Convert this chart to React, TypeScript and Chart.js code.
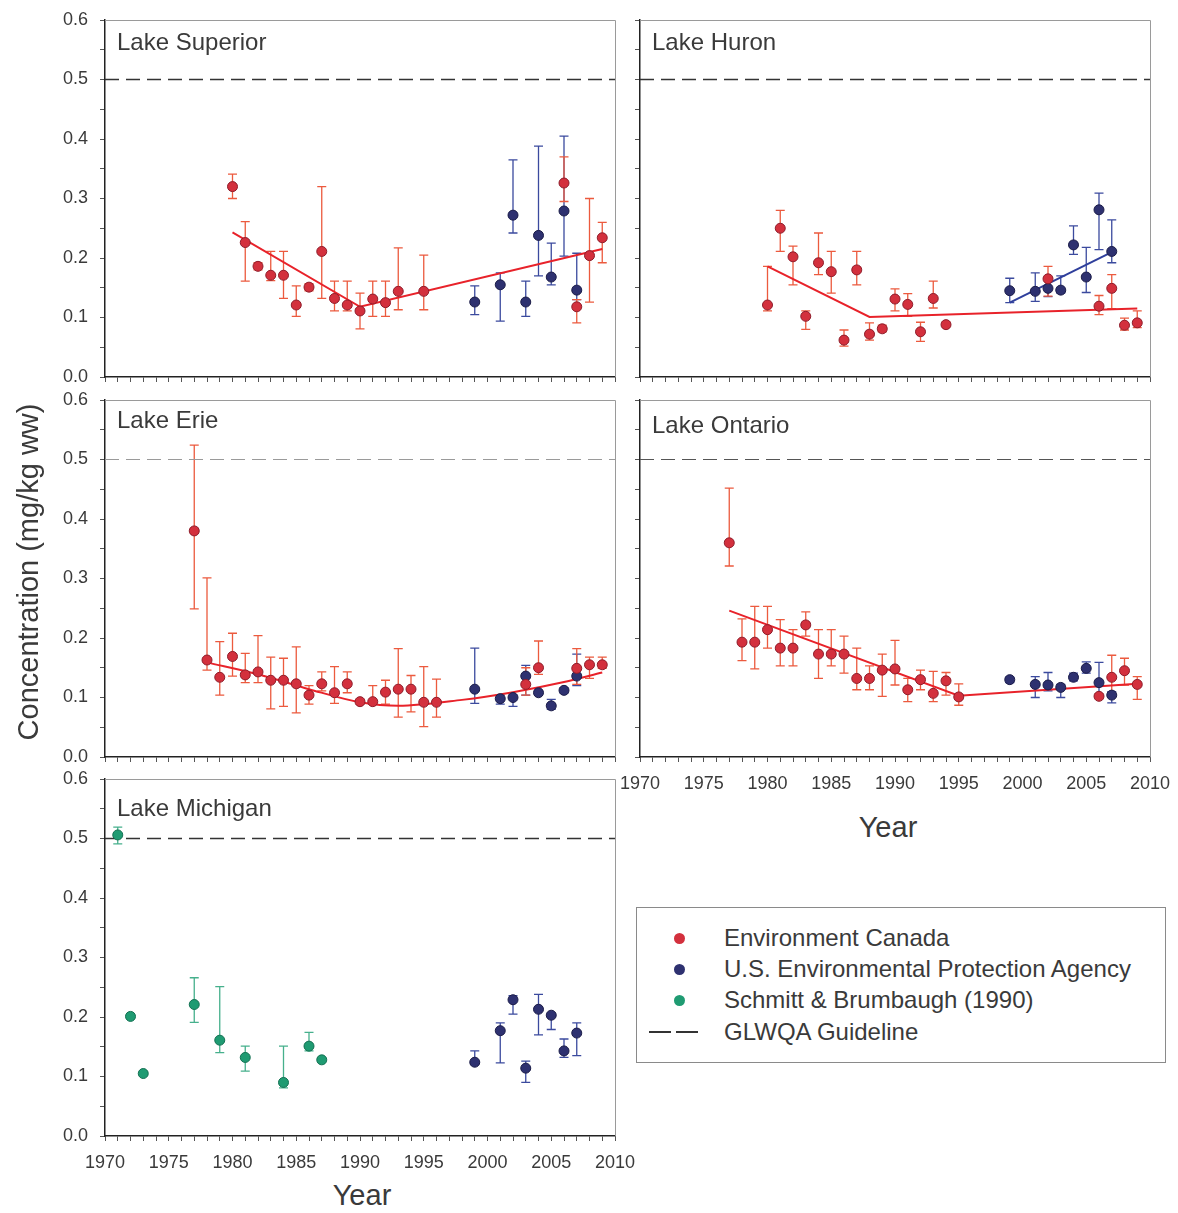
import React, { useEffect, useRef } from 'react';
import { Chart, registerables } from 'chart.js';

Chart.register(...registerables);

const FONT = '"Liberation Sans", Arial, Helvetica, sans-serif';
const X_MIN = 1970;
const X_MAX = 2010;
const Y_MIN = 0;
const Y_MAX = 0.6;
const GUIDELINE = 0.5;

// ---------------- Lake Superior ----------------
const supEcYears = [1980, 1981, 1982, 1983, 1984, 1985, 1986, 1987, 1988, 1989, 1990, 1991, 1992, 1993, 1995, 2006, 2007, 2008, 2009];
const supEcVals = [0.320, 0.226, 0.186, 0.171, 0.171, 0.121, 0.151, 0.211, 0.132, 0.121, 0.111, 0.131, 0.125, 0.144, 0.144, 0.326, 0.118, 0.204, 0.234];
const supEcLo = [0.300, 0.161, 0.180, 0.162, 0.132, 0.102, 0.145, 0.132, 0.111, 0.111, 0.081, 0.102, 0.102, 0.113, 0.113, 0.295, 0.091, 0.126, 0.192];
const supEcHi = [0.341, 0.261, 0.192, 0.211, 0.211, 0.153, 0.157, 0.320, 0.161, 0.161, 0.141, 0.161, 0.161, 0.217, 0.205, 0.370, 0.130, 0.300, 0.260];
const supEpaYears = [1999, 2001, 2002, 2003, 2004, 2005, 2006, 2007];
const supEpaVals = [0.126, 0.155, 0.272, 0.126, 0.238, 0.168, 0.279, 0.146];
const supEpaLo = [0.105, 0.094, 0.242, 0.102, 0.170, 0.155, 0.203, 0.130];
const supEpaHi = [0.153, 0.175, 0.365, 0.161, 0.388, 0.225, 0.405, 0.208];
const supEcTrendYears = [1980, 1990, 2009];
const supEcTrendVals = [0.243, 0.118, 0.215];

// ---------------- Lake Huron ----------------
const hurEcYears = [1980, 1981, 1982, 1983, 1984, 1985, 1986, 1987, 1988, 1989, 1990, 1991, 1992, 1993, 1994, 2002, 2006, 2007, 2008, 2009];
const hurEcVals = [0.121, 0.250, 0.202, 0.102, 0.192, 0.177, 0.062, 0.180, 0.072, 0.081, 0.131, 0.122, 0.076, 0.132, 0.088, 0.165, 0.119, 0.149, 0.087, 0.091];
const hurEcLo = [0.111, 0.211, 0.155, 0.080, 0.172, 0.141, 0.052, 0.155, 0.062, 0.076, 0.111, 0.102, 0.060, 0.116, 0.085, 0.136, 0.105, 0.115, 0.079, 0.083];
const hurEcHi = [0.186, 0.280, 0.220, 0.111, 0.242, 0.211, 0.079, 0.211, 0.091, 0.087, 0.148, 0.140, 0.092, 0.161, 0.092, 0.186, 0.137, 0.172, 0.099, 0.111];
const hurEpaYears = [1999, 2001, 2002, 2003, 2004, 2005, 2006, 2007];
const hurEpaVals = [0.145, 0.144, 0.149, 0.146, 0.222, 0.168, 0.281, 0.211];
const hurEpaLo = [0.125, 0.127, 0.135, 0.141, 0.206, 0.142, 0.214, 0.192];
const hurEpaHi = [0.166, 0.175, 0.166, 0.170, 0.254, 0.218, 0.309, 0.264];
const hurEcTrendYears = [1980, 1988, 2009];
const hurEcTrendVals = [0.186, 0.101, 0.115];
const hurEpaTrendYears = [1999, 2007];
const hurEpaTrendVals = [0.125, 0.210];

// ---------------- Lake Erie ----------------
const erieEcYears = [1977, 1978, 1979, 1980, 1981, 1982, 1983, 1984, 1985, 1986, 1987, 1988, 1989, 1990, 1991, 1992, 1993, 1994, 1995, 1996, 2003, 2004, 2007, 2008, 2009];
const erieEcVals = [0.380, 0.163, 0.134, 0.169, 0.138, 0.143, 0.129, 0.129, 0.123, 0.104, 0.123, 0.108, 0.123, 0.093, 0.093, 0.109, 0.114, 0.114, 0.092, 0.092, 0.122, 0.150, 0.149, 0.155, 0.155];
const erieEcLo = [0.249, 0.146, 0.104, 0.136, 0.125, 0.125, 0.081, 0.085, 0.074, 0.089, 0.111, 0.090, 0.108, 0.089, 0.089, 0.089, 0.067, 0.076, 0.051, 0.067, 0.104, 0.139, 0.122, 0.132, 0.149];
const erieEcHi = [0.524, 0.301, 0.194, 0.208, 0.174, 0.204, 0.168, 0.166, 0.185, 0.120, 0.143, 0.152, 0.143, 0.097, 0.120, 0.129, 0.182, 0.137, 0.152, 0.131, 0.150, 0.195, 0.182, 0.168, 0.168];
const erieEpaYears = [1999, 2001, 2002, 2003, 2004, 2005, 2006, 2007];
const erieEpaVals = [0.114, 0.098, 0.100, 0.136, 0.108, 0.086, 0.112, 0.136];
const erieEpaLo = [0.090, 0.089, 0.085, 0.104, 0.104, 0.080, 0.108, 0.120];
const erieEpaHi = [0.183, 0.104, 0.104, 0.154, 0.112, 0.097, 0.116, 0.173];
const erieEcTrendYears = [1978, 1982, 1986, 1990, 1993, 1998, 2002, 2006, 2009];
const erieEcTrendVals = [0.159, 0.139, 0.114, 0.092, 0.086, 0.096, 0.109, 0.126, 0.142];

// ---------------- Lake Ontario ----------------
const ontEcYears = [1977, 1978, 1979, 1980, 1981, 1982, 1983, 1984, 1985, 1986, 1987, 1988, 1989, 1990, 1991, 1992, 1993, 1994, 1995, 2006, 2007, 2008, 2009];
const ontEcVals = [0.360, 0.193, 0.193, 0.214, 0.183, 0.183, 0.222, 0.173, 0.173, 0.173, 0.132, 0.132, 0.146, 0.148, 0.113, 0.130, 0.107, 0.128, 0.101, 0.102, 0.134, 0.145, 0.122];
const ontEcLo = [0.321, 0.162, 0.148, 0.183, 0.153, 0.153, 0.203, 0.132, 0.153, 0.141, 0.113, 0.113, 0.102, 0.121, 0.093, 0.113, 0.093, 0.104, 0.087, 0.098, 0.102, 0.121, 0.097];
const ontEcHi = [0.452, 0.232, 0.253, 0.253, 0.231, 0.214, 0.244, 0.214, 0.214, 0.203, 0.183, 0.153, 0.173, 0.196, 0.132, 0.146, 0.144, 0.142, 0.123, 0.106, 0.171, 0.166, 0.135];
const ontEpaYears = [1999, 2001, 2002, 2003, 2004, 2005, 2006, 2007];
const ontEpaVals = [0.130, 0.122, 0.121, 0.117, 0.134, 0.149, 0.125, 0.104];
const ontEpaLo = [0.125, 0.100, 0.111, 0.100, 0.128, 0.141, 0.104, 0.091];
const ontEpaHi = [0.134, 0.135, 0.142, 0.122, 0.141, 0.160, 0.159, 0.110];
const ontEcTrendYears = [1977, 1995, 2009];
const ontEcTrendVals = [0.246, 0.103, 0.123];

// ---------------- Lake Michigan ----------------
const micSbYears = [1971, 1972, 1973, 1977, 1979, 1981, 1984, 1986, 1987];
const micSbVals = [0.506, 0.201, 0.105, 0.221, 0.161, 0.132, 0.090, 0.151, 0.128];
const micSbLo = [0.491, 0.198, 0.102, 0.191, 0.140, 0.109, 0.081, 0.143, 0.125];
const micSbHi = [0.519, 0.204, 0.108, 0.266, 0.251, 0.151, 0.151, 0.174, 0.131];
const micEpaYears = [1999, 2001, 2002, 2003, 2004, 2005, 2006, 2007];
const micEpaVals = [0.124, 0.177, 0.229, 0.114, 0.213, 0.203, 0.143, 0.173];
const micEpaLo = [0.120, 0.123, 0.205, 0.090, 0.170, 0.179, 0.132, 0.135];
const micEpaHi = [0.143, 0.190, 0.236, 0.126, 0.238, 0.206, 0.163, 0.190];

// ---------------- Legend ----------------
const legendLabels = ['Environment Canada', 'U.S. Environmental Protection Agency', 'Schmitt & Brumbaugh (1990)', 'GLWQA Guideline'];

const C = {
  ecFill: '#d3303d',
  ecEdge: '#8e1c2a',
  ecErr: '#ec5a3e',
  ecTrend: '#e8222a',
  epaFill: '#2e3170',
  epaEdge: '#1b1c48',
  epaErr: '#3b4a9e',
  epaTrend: '#2f3f9c',
  sbFill: '#1f9b72',
  sbEdge: '#137052',
  sbErr: '#46b08c',
  text: '#3a3a3a',
};

type Series = { years: number[]; vals: number[]; lo?: number[]; hi?: number[] };
type PanelDef = {
  title: string;
  left: number;
  top: number;
  titleTop: number;
  showX: boolean;
  showY: boolean;
  guideColor: string;
  guideWidth: number;
  ec?: Series;
  epa?: Series;
  sb?: Series;
  ecTrend?: Series;
  epaTrend?: Series;
  smooth?: boolean;
};

const panels: PanelDef[] = [
  {
    title: 'Lake Superior', left: 105, top: 20, titleTop: 30, showX: false, showY: true, guideColor: '#333', guideWidth: 1.6,
    ec: { years: supEcYears, vals: supEcVals, lo: supEcLo, hi: supEcHi },
    epa: { years: supEpaYears, vals: supEpaVals, lo: supEpaLo, hi: supEpaHi },
    ecTrend: { years: supEcTrendYears, vals: supEcTrendVals },
  },
  {
    title: 'Lake Huron', left: 640, top: 20, titleTop: 30, showX: false, showY: false, guideColor: '#333', guideWidth: 1.6,
    ec: { years: hurEcYears, vals: hurEcVals, lo: hurEcLo, hi: hurEcHi },
    epa: { years: hurEpaYears, vals: hurEpaVals, lo: hurEpaLo, hi: hurEpaHi },
    ecTrend: { years: hurEcTrendYears, vals: hurEcTrendVals },
    epaTrend: { years: hurEpaTrendYears, vals: hurEpaTrendVals },
  },
  {
    title: 'Lake Erie', left: 105, top: 400, titleTop: 408, showX: false, showY: true, guideColor: '#9a9a9a', guideWidth: 1.2,
    ec: { years: erieEcYears, vals: erieEcVals, lo: erieEcLo, hi: erieEcHi },
    epa: { years: erieEpaYears, vals: erieEpaVals, lo: erieEpaLo, hi: erieEpaHi },
    ecTrend: { years: erieEcTrendYears, vals: erieEcTrendVals },
    smooth: true,
  },
  {
    title: 'Lake Ontario', left: 640, top: 400, titleTop: 413, showX: true, showY: false, guideColor: '#555', guideWidth: 1.2,
    ec: { years: ontEcYears, vals: ontEcVals, lo: ontEcLo, hi: ontEcHi },
    epa: { years: ontEpaYears, vals: ontEpaVals, lo: ontEpaLo, hi: ontEpaHi },
    ecTrend: { years: ontEcTrendYears, vals: ontEcTrendVals },
  },
  {
    title: 'Lake Michigan', left: 105, top: 779, titleTop: 796, showX: true, showY: true, guideColor: '#333', guideWidth: 1.6,
    sb: { years: micSbYears, vals: micSbVals, lo: micSbLo, hi: micSbHi },
    epa: { years: micEpaYears, vals: micEpaVals, lo: micEpaLo, hi: micEpaHi },
  },
];

const AREA_W = 510;
const AREA_H = 357;
const M_L = 60; // y-axis width
const M_T = 30;
const M_R = 40;
const M_B = 40; // x-axis height
const CANVAS_W = M_L + AREA_W + M_R;
const CANVAS_H = M_T + AREA_H + M_B;

const errorBarPlugin = {
  id: 'errorBars',
  beforeDatasetsDraw(chart: any) {
    const { ctx } = chart;
    const xs = chart.scales.x;
    const ys = chart.scales.y;
    ctx.save();
    chart.data.datasets.forEach((ds: any) => {
      if (!ds.errLo || !ds.errHi) return;
      ctx.strokeStyle = ds.errColor;
      ctx.lineWidth = ds.errWidth || 1.3;
      ds.data.forEach((p: any, i: number) => {
        const px = xs.getPixelForValue(p.x);
        const lo = ys.getPixelForValue(ds.errLo[i]);
        const hi = ys.getPixelForValue(ds.errHi[i]);
        ctx.beginPath();
        ctx.moveTo(px, lo);
        ctx.lineTo(px, hi);
        ctx.moveTo(px - 4.5, lo);
        ctx.lineTo(px + 4.5, lo);
        ctx.moveTo(px - 4.5, hi);
        ctx.lineTo(px + 4.5, hi);
        ctx.stroke();
      });
    });
    ctx.restore();
  },
};

const framePlugin = {
  id: 'frame',
  beforeDatasetsDraw(chart: any) {
    const { ctx, chartArea } = chart;
    ctx.save();
    ctx.strokeStyle = '#9a9a9a';
    ctx.lineWidth = 1;
    ctx.beginPath();
    ctx.moveTo(chartArea.left, chartArea.top + 0.5);
    ctx.lineTo(chartArea.right + 0.5, chartArea.top + 0.5);
    ctx.lineTo(chartArea.right + 0.5, chartArea.bottom);
    ctx.stroke();
    ctx.restore();
  },
};

function toPoints(years: number[], vals: number[]) {
  return years.map((yr, i) => ({ x: yr, y: vals[i] }));
}

function scatterDataset(s: Series, fill: string, edge: string, err: string, order: number) {
  return {
    type: 'scatter',
    data: toPoints(s.years, s.vals),
    backgroundColor: fill,
    borderColor: edge,
    borderWidth: 1,
    pointRadius: 5,
    pointHoverRadius: 5,
    errLo: s.lo,
    errHi: s.hi,
    errColor: err,
    errWidth: 1.3,
    order,
  };
}

function buildConfig(p: PanelDef): any {
  const datasets: any[] = [];
  datasets.push({
    type: 'line',
    data: [{ x: X_MIN, y: GUIDELINE }, { x: X_MAX, y: GUIDELINE }],
    borderColor: p.guideColor,
    borderWidth: p.guideWidth,
    borderDash: [14, 7],
    pointRadius: 0,
    fill: false,
    order: 10,
  });
  if (p.ecTrend) {
    datasets.push({
      type: 'line',
      data: toPoints(p.ecTrend.years, p.ecTrend.vals),
      borderColor: C.ecTrend,
      borderWidth: 2,
      pointRadius: 0,
      fill: false,
      tension: p.smooth ? 0.4 : 0,
      cubicInterpolationMode: p.smooth ? 'monotone' : 'default',
      order: 5,
    });
  }
  if (p.epaTrend) {
    datasets.push({
      type: 'line',
      data: toPoints(p.epaTrend.years, p.epaTrend.vals),
      borderColor: C.epaTrend,
      borderWidth: 2,
      pointRadius: 0,
      fill: false,
      order: 4,
    });
  }
  if (p.sb) datasets.push(scatterDataset(p.sb, C.sbFill, C.sbEdge, C.sbErr, 3));
  if (p.epa) datasets.push(scatterDataset(p.epa, C.epaFill, C.epaEdge, C.epaErr, 2));
  if (p.ec) datasets.push(scatterDataset(p.ec, C.ecFill, C.ecEdge, C.ecErr, 1));

  return {
    type: 'scatter',
    data: { datasets },
    plugins: [errorBarPlugin, framePlugin],
    options: {
      responsive: false,
      maintainAspectRatio: false,
      animation: false,
      events: [],
      layout: { padding: { left: 0, top: 0, right: 0, bottom: 0 } },
      plugins: { legend: { display: false }, tooltip: { enabled: false }, title: { display: false } },
      scales: {
        x: {
          type: 'linear',
          min: X_MIN,
          max: X_MAX,
          ticks: {
            stepSize: 1,
            autoSkip: false,
            maxRotation: 0,
            minRotation: 0,
            padding: 11,
            color: C.text,
            font: { family: FONT, size: 18 },
            callback: (v: number) => (p.showX && Math.round(v) % 5 === 0 ? String(Math.round(v)) : ''),
          },
          grid: { display: true, drawOnChartArea: false, drawTicks: true, tickLength: 5, color: '#555', lineWidth: 1 },
          border: { display: true, color: '#222', width: 1.5 },
          afterFit: (s: any) => { s.height = M_B; },
        },
        y: {
          type: 'linear',
          min: Y_MIN,
          max: Y_MAX,
          ticks: {
            stepSize: 0.05,
            autoSkip: false,
            padding: 12,
            color: C.text,
            font: { family: FONT, size: 18 },
            callback: (v: number) => {
              const t = v * 10;
              if (!p.showY || Math.abs(t - Math.round(t)) > 1e-6) return '';
              return (Math.round(t) / 10).toFixed(1);
            },
          },
          grid: { display: true, drawOnChartArea: false, drawTicks: true, tickLength: 5, color: '#555', lineWidth: 1 },
          border: { display: true, color: '#222', width: 1.5 },
          afterFit: (s: any) => { s.width = M_L; },
        },
      },
    },
  };
}

function Panel({ def }: { def: PanelDef }) {
  const ref = useRef<HTMLCanvasElement | null>(null);
  useEffect(() => {
    if (!ref.current) return;
    const chart: any = new Chart(ref.current, buildConfig(def));
    // Fit the plot area exactly to the intended frame inside the canvas.
    const pad = { left: 0, top: 0, right: 0, bottom: 0 };
    for (let k = 0; k < 5; k++) {
      const ca = chart.chartArea;
      if (!ca) break;
      const dl = M_L - ca.left;
      const dt = M_T - ca.top;
      const dr = ca.right - (CANVAS_W - M_R);
      const db = ca.bottom - (CANVAS_H - M_B);
      if (Math.abs(dl) + Math.abs(dt) + Math.abs(dr) + Math.abs(db) < 0.3) break;
      pad.left = Math.max(0, pad.left + dl);
      pad.top = Math.max(0, pad.top + dt);
      pad.right = Math.max(0, pad.right + dr);
      pad.bottom = Math.max(0, pad.bottom + db);
      chart.config.options.layout.padding = { ...pad };
      chart.update();
    }
    return () => chart.destroy();
  }, [def]);
  return (
    <>
      <canvas
        ref={ref}
        width={CANVAS_W}
        height={CANVAS_H}
        style={{ position: 'absolute', left: def.left - M_L, top: def.top - M_T, width: CANVAS_W, height: CANVAS_H }}
      />
      <div
        style={{
          position: 'absolute',
          left: def.left + 12,
          top: def.titleTop,
          fontFamily: FONT,
          fontSize: 24,
          lineHeight: '24px',
          color: C.text,
          whiteSpace: 'nowrap',
        }}
      >
        {def.title}
      </div>
    </>
  );
}

export default function App() {
  const textBase = { position: 'absolute' as const, fontFamily: FONT, color: C.text, whiteSpace: 'nowrap' as const };
  const legendRowTops = [926, 957, 988, 1020];
  const legendColors = [C.ecFill, C.epaFill, C.sbFill];
  return (
    <div style={{ position: 'absolute', left: 0, top: 0, width: 1178, height: 1213, background: '#fff', overflow: 'hidden' }}>
      {panels.map((p) => (
        <Panel key={p.title} def={p} />
      ))}
      <div
        style={{
          ...textBase,
          left: 28 - 220,
          top: 572 - 18,
          width: 440,
          height: 36,
          lineHeight: '36px',
          fontSize: 29,
          textAlign: 'center',
          transform: 'rotate(-90deg)',
          transformOrigin: '50% 50%',
        }}
      >
        Concentration (mg/kg ww)
      </div>
      <div style={{ ...textBase, left: 888 - 100, width: 200, textAlign: 'center', top: 828 - 15, fontSize: 29, lineHeight: '29px' }}>Year</div>
      <div style={{ ...textBase, left: 362 - 100, width: 200, textAlign: 'center', top: 1196 - 15, fontSize: 29, lineHeight: '29px' }}>Year</div>
      <div
        style={{
          position: 'absolute',
          left: 636,
          top: 907,
          width: 528,
          height: 154,
          border: '1px solid #8a8a8a',
          background: '#fff',
        }}
      />
      {legendLabels.map((lab, i) => (
        <React.Fragment key={lab}>
          {i < 3 ? (
            <div
              style={{
                position: 'absolute',
                left: 679 - 5.5,
                top: legendRowTops[i] + 12 - 5.5,
                width: 11,
                height: 11,
                borderRadius: '50%',
                background: legendColors[i],
              }}
            />
          ) : (
            <>
              <div style={{ position: 'absolute', left: 649, top: legendRowTops[i] + 11, width: 22, height: 2, background: '#333' }} />
              <div style={{ position: 'absolute', left: 676, top: legendRowTops[i] + 11, width: 22, height: 2, background: '#333' }} />
            </>
          )}
          <div style={{ ...textBase, left: 724, top: legendRowTops[i], fontSize: 24, lineHeight: '24px' }}>{lab}</div>
        </React.Fragment>
      ))}
    </div>
  );
}
